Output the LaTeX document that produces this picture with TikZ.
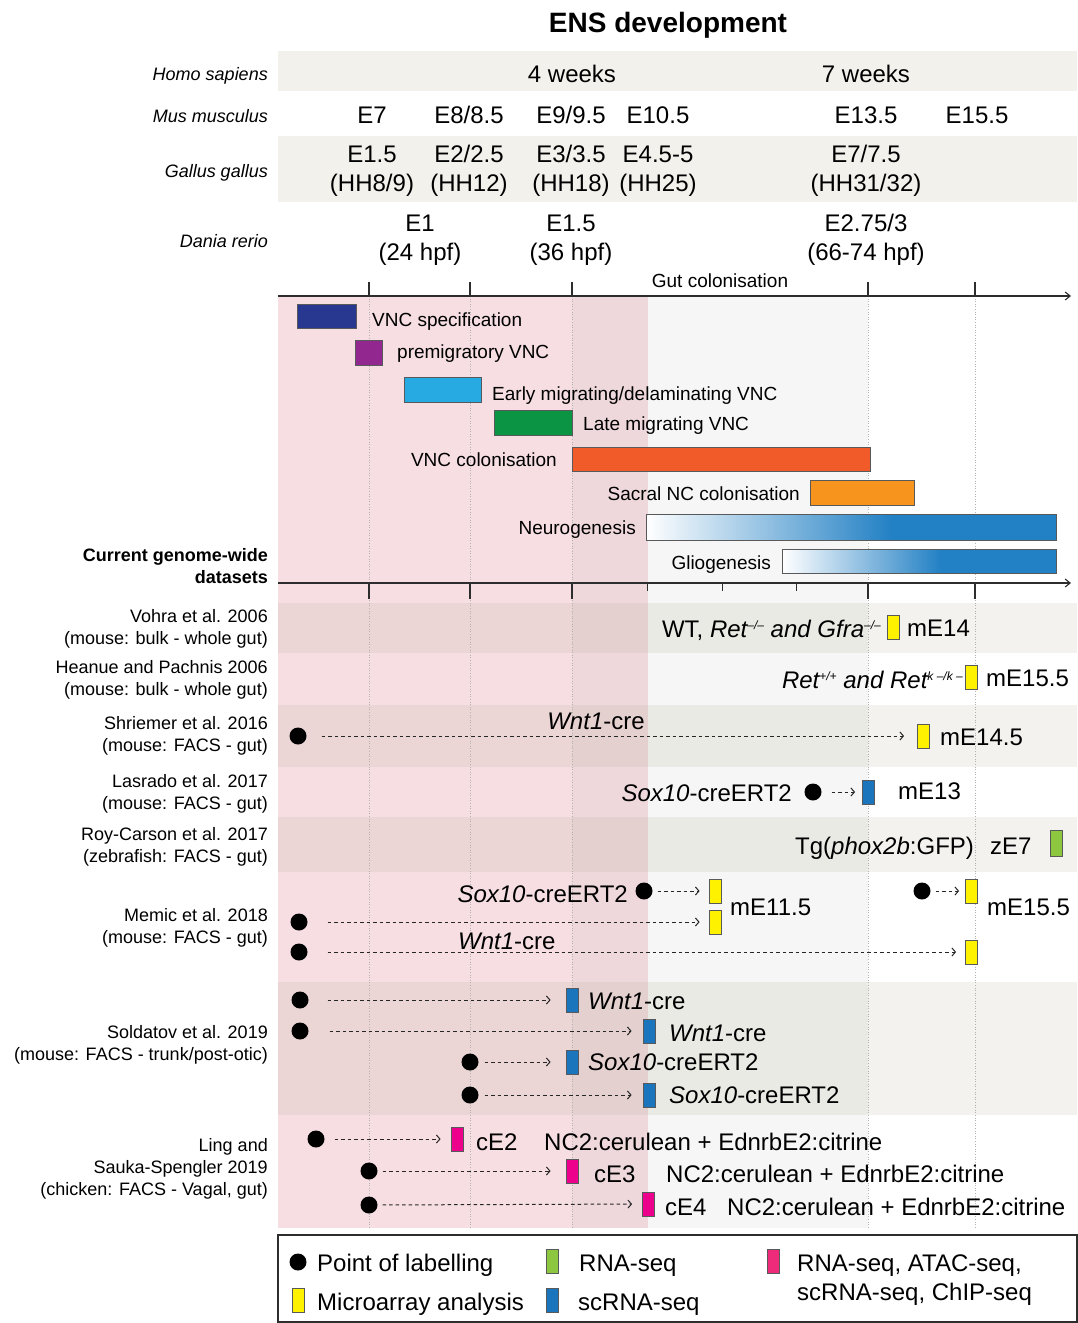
\documentclass[tikz,border=0pt]{standalone}
\usepackage{fontspec}
\setmainfont{Liberation Sans}
\usetikzlibrary{arrows.meta}
\definecolor{navy}{RGB}{40,56,145}
\definecolor{purp}{RGB}{146,39,143}
\definecolor{cyanb}{RGB}{39,170,225}
\definecolor{greenb}{RGB}{11,148,68}
\definecolor{redb}{RGB}{241,90,41}
\definecolor{orangeb}{RGB}{247,148,29}
\definecolor{nblue}{RGB}{34,128,196}
\definecolor{yel}{RGB}{255,242,0}
\definecolor{scblue}{RGB}{27,117,188}
\definecolor{rnagreen}{RGB}{141,198,63}
\definecolor{mag}{RGB}{236,0,140}
\definecolor{legmag}{RGB}{238,42,123}
\definecolor{topband}{RGB}{242,241,236}
\definecolor{pinkbg}{RGB}{246,222,226}
\definecolor{dpinkbg}{RGB}{238,216,219}
\definecolor{gutgray}{RGB}{245,246,245}
\definecolor{bandov}{RGB}{175,168,142}
\definecolor{edge}{RGB}{88,89,91}
\definecolor{axisc}{RGB}{45,45,45}
\pgfdeclarehorizontalshading{neuroshade}{100bp}{color(0bp)=(white); color(25bp)=(white); color(55bp)=(nblue); color(100bp)=(nblue)}
\pgfdeclarehorizontalshading{glioshade}{100bp}{color(0bp)=(white); color(25bp)=(white); color(54bp)=(nblue); color(100bp)=(nblue)}
\newcommand{\smallsup}[1]{\raisebox{8pt}{\fontsize{12}{12}\selectfont #1}}
\begin{document}
\begin{tikzpicture}[x=1pt,y=-1pt,
  t28/.style={font=\fontsize{28}{33}\selectfont\bfseries, inner sep=0pt},
  t24/.style={font=\fontsize{24}{29}\selectfont, inner sep=0pt},
  t19/.style={font=\fontsize{19}{23}\selectfont, inner sep=0pt},
  t18/.style={font=\fontsize{18}{22}\selectfont, inner sep=0pt},
  speclabel/.style={font=\fontsize{18}{22}\selectfont\itshape, inner sep=0pt, anchor=base east},
  reflabel/.style={font=\fontsize{18}{22}\selectfont, inner sep=0pt, anchor=east, align=right},
  colhead/.style={font=\fontsize{24}{29}\selectfont, inner sep=0pt, align=center},
  barbox/.style={draw=edge, line width=0.8pt, rectangle, inner sep=0pt},
  ldot/.style={circle, fill=black, minimum size=17pt, inner sep=0pt},
  databox/.style={rectangle, draw=edge, line width=0.8pt, minimum width=12pt, minimum height=24pt, inner sep=0pt},
  dar/.style={draw=black!85, line width=1pt, dash pattern=on 3.5pt off 3pt, -{Straight Barb[length=3.5pt,width=8pt]}},
  axisline/.style={draw=axisc, line width=1.1pt, -{Straight Barb[length=5pt,width=8pt]}},
  tickmark/.style={draw=axisc, line width=1.4pt},
  vdot/.style={draw=gray!60, line width=0.6pt, dotted}
]
\useasboundingbox (0,0) rectangle (1078,1323);

% ---------- top table ----------
\fill[topband] (278,51) rectangle (1077,91);
\fill[topband] (278,136) rectangle (1077,202);
\node[t28, anchor=base] (title) at (668,32) {ENS development};

\node[speclabel] (hs) at (268,80.5) {Homo sapiens};
\node[speclabel] (mm) at (268,122.5) {Mus musculus};
\node[speclabel] (gg) at (268,177.5) {Gallus gallus};
\node[speclabel] (dr) at (268,247.5) {Dania rerio};

\node[t24, anchor=base] (w4) at (572,82) {4 weeks};
\node[t24, anchor=base] (w7) at (866,82) {7 weeks};

\node[t24, anchor=base] (m1) at (372,123) {E7};
\node[t24, anchor=base] (m2) at (469,123) {E8/8.5};
\node[t24, anchor=base] (m3) at (571,123) {E9/9.5};
\node[t24, anchor=base] (m4) at (658,123) {E10.5};
\node[t24, anchor=base] (m5) at (866,123) {E13.5};
\node[t24, anchor=base] (m6) at (977,123) {E15.5};

\node[colhead] (g1) at (372,171) {E1.5\\(HH8/9)};
\node[colhead] (g2) at (469,171) {E2/2.5\\(HH12)};
\node[colhead] (g3) at (571,171) {E3/3.5\\(HH18)};
\node[colhead] (g4) at (658,171) {E4.5-5\\(HH25)};
\node[colhead] (g5) at (866,171) {E7/7.5\\(HH31/32)};

\node[colhead] (z1) at (420,240) {E1\\(24 hpf)};
\node[colhead] (z2) at (571,240) {E1.5\\(36 hpf)};
\node[colhead] (z3) at (866,240) {E2.75/3\\(66-74 hpf)};

% ---------- backgrounds ----------
\fill[pinkbg] (278,296) rectangle (572,1228);
\fill[dpinkbg] (572,296) rectangle (648,1228);
\fill[gutgray] (648,296) rectangle (868,1228);
\fill[bandov, opacity=0.15] (278,603) rectangle (1077,653);
\fill[bandov, opacity=0.15] (278,705) rectangle (1077,767);
\fill[bandov, opacity=0.15] (278,817) rectangle (1077,872);
\fill[bandov, opacity=0.15] (278,982) rectangle (1077,1115);
\foreach \xx in {369,470,572,868,975} \draw[vdot] (\xx,296) -- (\xx,1228);

% ---------- axes ----------
\coordinate (a1s) at (278,296); \coordinate (a1e) at (1071,296);
\draw[axisline] (a1s) -- (a1e);
\foreach \xx in {369,470,572,868,975} \draw[tickmark] (\xx,296) -- (\xx,282);
\node[t19, anchor=base] (gutc) at (720,287) {Gut colonisation};

\coordinate (a2s) at (278,583); \coordinate (a2e) at (1071,583);
\draw[axisline] (a2s) -- (a2e);
\foreach \xx in {369,470,572,868,975} \draw[tickmark] (\xx,583) -- (\xx,599);
\foreach \xx in {647,722,796} \draw[tickmark, line width=1pt] (\xx,583) -- (\xx,591);

% ---------- developmental bars ----------
\node[barbox, fill=navy, minimum width=59pt, minimum height=24pt] (vspec) at (326.5,316) {};
\node[t19, anchor=base west] (vspecL) at (372,326) {VNC specification};
\node[barbox, fill=purp, minimum width=27pt, minimum height=25pt] (premig) at (368.5,352.5) {};
\node[t19, anchor=base west] (premigL) at (397,358) {premigratory VNC};
\node[barbox, fill=cyanb, minimum width=77pt, minimum height=25pt] (early) at (442.5,389.5) {};
\node[t19, anchor=base west] (earlyL) at (492,400) {Early migrating/delaminating VNC};
\node[barbox, fill=greenb, minimum width=78pt, minimum height=25pt] (late) at (533,422.5) {};
\node[t19, anchor=base west] (lateL) at (583,430) {Late migrating VNC};
\node[barbox, fill=redb, minimum width=298pt, minimum height=24pt] (colon) at (721,459) {};
\node[t19, anchor=base east] (colonL) at (557,466) {VNC colonisation};
\node[barbox, fill=orangeb, minimum width=104pt, minimum height=25pt] (sacral) at (862,492.5) {};
\node[t19, anchor=base east] (sacralL) at (800,500) {Sacral NC colonisation};
\node[barbox, shade, shading=neuroshade, minimum width=410pt, minimum height=26pt] (neuro) at (851,527) {};
\node[t19, anchor=base east] (neuroL) at (636,534) {Neurogenesis};
\node[barbox, shade, shading=glioshade, minimum width=274pt, minimum height=24pt] (glio) at (919,561) {};
\node[t19, anchor=base east] (glioL) at (771,569) {Gliogenesis};

\node[font=\fontsize{18}{22}\selectfont\bfseries, inner sep=0pt, anchor=east, align=right] (cgw) at (268,566) {Current genome-wide\\datasets};

% ---------- dataset labels ----------
\node[reflabel] (r1) at (268,629) {Vohra et al. 2006\\(mouse: bulk - whole gut)};
\node[reflabel] (r2) at (268,680) {Heanue and Pachnis 2006\\(mouse: bulk - whole gut)};
\node[reflabel] (r3) at (268,736) {Shriemer et al. 2016\\(mouse: FACS - gut)};
\node[reflabel] (r4) at (268,794) {Lasrado et al. 2017\\(mouse: FACS - gut)};
\node[reflabel] (r5) at (268,847) {Roy-Carson et al. 2017\\(zebrafish: FACS - gut)};
\node[reflabel] (r6) at (268,928) {Memic et al. 2018\\(mouse: FACS - gut)};
\node[reflabel] (r7) at (268,1045) {Soldatov et al. 2019\\(mouse: FACS - trunk/post-otic)};
\node[reflabel] (r8) at (268,1169) {Ling and\\Sauka-Spengler 2019\\(chicken: FACS - Vagal, gut)};

% ---------- Vohra ----------
\node[t24, anchor=base east] (vT) at (881,637) {WT, \textit{Ret\smallsup{–/–} and Gfra\smallsup{–/–}}};
\node[databox, fill=yel] (vB) at (893,627) {};
\node[t24, anchor=base west] (vE) at (907,636) {mE14};

% ---------- Heanue ----------
\node[t24, anchor=base east] (hT) at (963,688) {\textit{Ret\smallsup{+/+} and Ret\smallsup{k –/k –}}};
\node[databox, fill=yel] (hB) at (971.5,677) {};
\node[t24, anchor=base west] (hE) at (986,686) {mE15.5};

% ---------- Shriemer ----------
\node[ldot] (sD) at (298,736) {};
\node[databox, fill=yel] (sB) at (923.5,736) {};
\draw[dar, shorten <=15pt, shorten >=13pt] (sD) -- (sB);
\node[t24, anchor=base] (sT) at (596,729) {\textit{Wnt1}-cre};
\node[t24, anchor=base west] (sE) at (940,745) {mE14.5};

% ---------- Lasrado ----------
\node[t24, anchor=base east] (lT) at (792,801) {\textit{Sox10}-creERT2};
\node[ldot] (lD) at (813,792) {};
\node[databox, fill=scblue] (lB) at (868.5,792) {};
\draw[dar, shorten <=10pt, shorten >=7pt] (lD) -- (lB);
\node[t24, anchor=base west] (lE) at (898,799) {mE13};

% ---------- Roy-Carson ----------
\node[t24, anchor=base west] (rcT) at (795,854) {Tg(\textit{phox2b}:GFP)};
\node[t24, anchor=base west] (rcE) at (990,854) {zE7};
\node[databox, fill=rnagreen, minimum height=26pt] (rcB) at (1056,843) {};

% ---------- Memic ----------
\node[t24, anchor=base east] (mT1) at (628,902) {\textit{Sox10}-creERT2};
\node[ldot] (mD1) at (644,891) {};
\node[databox, fill=yel] (mB1) at (715,891) {};
\draw[dar, shorten <=5pt, shorten >=9pt] (mD1) -- (mB1);
\node[ldot] (mD2) at (299,922) {};
\node[databox, fill=yel] (mB2) at (715,922) {};
\draw[dar, shorten <=20pt, shorten >=9pt] (mD2) -- (mB2);
\node[t24, anchor=base west] (mE1) at (730,915) {mE11.5};
\node[t24, anchor=base west] (mT2) at (458,949) {\textit{Wnt1}-cre};
\node[ldot] (mD3) at (299,952) {};
\node[databox, fill=yel] (mB3) at (971.5,952) {};
\draw[dar, shorten <=20pt, shorten >=9pt] (mD3) -- (mB3);
\node[ldot] (mD4) at (922,891) {};
\node[databox, fill=yel] (mB4) at (971.5,891) {};
\draw[dar, shorten <=5pt, shorten >=6pt] (mD4) -- (mB4);
\node[t24, anchor=base west] (mE2) at (987,915) {mE15.5};

% ---------- Soldatov ----------
\node[ldot] (oD1) at (300,1000) {};
\node[databox, fill=scblue] (oB1) at (572,1000) {};
\draw[dar, shorten <=19pt, shorten >=15pt] (oD1) -- (oB1);
\node[t24, anchor=base west] (oT1) at (588,1009) {\textit{Wnt1}-cre};
\node[ldot] (oD2) at (300,1031) {};
\node[databox, fill=scblue] (oB2) at (649,1031) {};
\draw[dar, shorten <=21pt, shorten >=11pt] (oD2) -- (oB2);
\node[t24, anchor=base west] (oT2) at (669,1041) {\textit{Wnt1}-cre};
\node[ldot] (oD3) at (470,1062) {};
\node[databox, fill=scblue] (oB3) at (572,1062) {};
\draw[dar, shorten <=6pt, shorten >=15pt] (oD3) -- (oB3);
\node[t24, anchor=base west] (oT3) at (588,1070) {\textit{Sox10}-creERT2};
\node[ldot] (oD4) at (470,1095) {};
\node[databox, fill=scblue] (oB4) at (649,1095) {};
\draw[dar, shorten <=6pt, shorten >=11pt] (oD4) -- (oB4);
\node[t24, anchor=base west] (oT4) at (669,1103) {\textit{Sox10}-creERT2};

% ---------- Ling ----------
\node[ldot] (cD1) at (316,1139) {};
\node[databox, fill=mag] (cB1) at (457,1139) {};
\draw[dar, shorten <=10pt, shorten >=10pt] (cD1) -- (cB1);
\node[t24, anchor=base west] (cE1) at (476,1150) {cE2};
\node[t24, anchor=base west] (cN1) at (544,1150) {NC2:cerulean + EdnrbE2:citrine};
\node[ldot] (cD2) at (369,1171) {};
\node[databox, fill=mag] (cB2) at (572,1171) {};
\draw[dar, shorten <=5pt, shorten >=15pt] (cD2) -- (cB2);
\node[t24, anchor=base west] (cE2) at (594,1182) {cE3};
\node[t24, anchor=base west] (cN2) at (666,1182) {NC2:cerulean + EdnrbE2:citrine};
\node[ldot] (cD3) at (369,1205) {};
\node[databox, fill=mag] (cB3) at (648.5,1204) {};
\draw[dar, shorten <=5pt, shorten >=10pt] (cD3) -- (cB3);
\node[t24, anchor=base west] (cE3) at (665,1215) {cE4};
\node[t24, anchor=base west] (cN3) at (727,1215) {NC2:cerulean + EdnrbE2:citrine};

% ---------- legend ----------
\node[draw=axisc, line width=1.2pt, rectangle, minimum width=799pt, minimum height=87pt, inner sep=0pt] (legend) at (677.5,1278.5) {};
\node[ldot] (lgD) at (298,1262) {};
\node[t24, anchor=base west] (lgDT) at (317,1271) {Point of labelling};
\node[databox, fill=yel] (lgY) at (298,1300) {};
\node[t24, anchor=base west] (lgYT) at (317,1310) {Microarray analysis};
\node[databox, fill=rnagreen] (lgG) at (552,1261) {};
\node[t24, anchor=base west] (lgGT) at (579,1271) {RNA-seq};
\node[databox, fill=scblue] (lgB) at (552,1300) {};
\node[t24, anchor=base west] (lgBT) at (578,1310) {scRNA-seq};
\node[databox, fill=legmag] (lgM) at (773,1261) {};
\node[t24, anchor=base west] (lgMT1) at (797,1271) {RNA-seq, ATAC-seq,};
\node[t24, anchor=base west] (lgMT2) at (797,1300) {scRNA-seq, ChIP-seq};
\end{tikzpicture}
\end{document}
